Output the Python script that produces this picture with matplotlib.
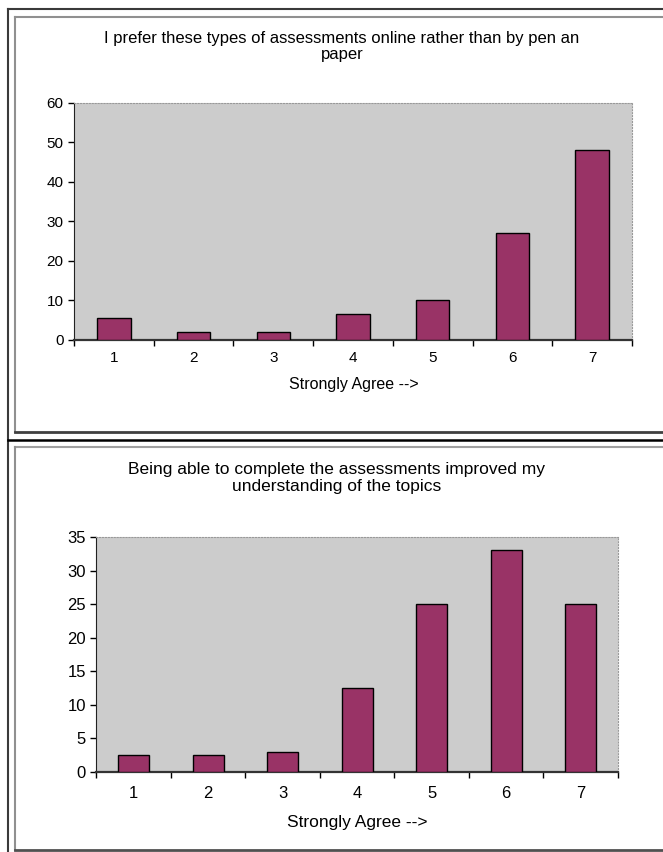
import numpy as np
import matplotlib
matplotlib.use("Agg")
import matplotlib.pyplot as plt
from matplotlib.lines import Line2D

plt.rcParams["font.family"] = ["Liberation Sans", "DejaVu Sans"]

# Datos.
categorias = [1, 2, 3, 4, 5, 6, 7]
valores_arriba = [5.5, 2, 2, 6.5, 10, 27, 48]
valores_abajo = [2.5, 2.5, 3, 12.5, 25, 33, 25]

titulo_arriba = "I prefer these types of assessments online rather than by pen an\npaper"
titulo_abajo = "Being able to complete the assessments improved my\nunderstanding of the topics"
etiqueta_x = "Strongly Agree -->"

W, H = 663, 852
fig = plt.figure(figsize=(W / 100, H / 100), dpi=100)


def px(x, y):
    # Paso de pixeles (desde arriba a la izquierda) a fraccion de figura.
    return x / W, 1 - y / H


def linea(x0, y0, x1, y1, color, lw):
    a = px(x0, y0)
    b = px(x1, y1)
    fig.add_artist(Line2D([a[0], b[0]], [a[1], b[1]], color=color, lw=lw,
                          transform=fig.transFigure))


# Marcos exteriores.
linea(8, 9, 8, 852, "#3a3a3a", 1.5)
linea(8, 9, 663, 9, "#3a3a3a", 1.5)
linea(8, 440, 663, 440, "#000000", 1.8)
# Panel de arriba.
linea(15, 17, 663, 17, "#909090", 1.5)
linea(15, 17, 15, 432, "#909090", 1.5)
linea(15, 432, 663, 432, "#404040", 2)
# Panel de abajo.
linea(15, 447, 663, 447, "#a0a0a0", 1.5)
linea(15, 447, 15, 850, "#909090", 1.5)
linea(15, 850, 663, 850, "#505050", 2)


def grafico(rect, valores, ymax, paso, titulo, tx, ty, lx, ly,
            fs_tit, fs_tick, fs_lab, pad_x, esp):
    ax = fig.add_axes(rect)
    ax.set_facecolor("#CCCCCC")
    ax.bar(categorias, valores, width=0.42, color="#993366",
           edgecolor="black", linewidth=1, zorder=3)
    ax.set_xlim(0.5, 7.5)
    ax.set_ylim(0, ymax)
    ax.set_yticks(np.arange(0, ymax + 1, paso))
    ax.set_xticks(categorias)
    ax.set_xticks(np.arange(0.5, 8, 1), minor=True)
    ax.tick_params(axis="x", which="major", length=0, pad=pad_x, labelsize=fs_tick)
    ax.tick_params(axis="x", which="minor", length=4, width=1, direction="out")
    ax.tick_params(axis="y", length=4, width=1, pad=3.5, labelsize=fs_tick)
    for s in ["top", "right"]:
        ax.spines[s].set_color("#999999")
        ax.spines[s].set_linestyle(":")
    ax.spines["left"].set_color("#222222")
    ax.spines["bottom"].set_color("#333333")
    ax.spines["bottom"].set_linewidth(1.6)
    fig.text(*px(tx, ty), titulo, ha="center", va="center", fontsize=fs_tit,
             linespacing=esp)
    fig.text(*px(lx, ly), etiqueta_x, ha="center", va="center", fontsize=fs_lab)
    return ax


grafico([74 / W, 1 - 339.5 / H, (632 - 74) / W, (339.5 - 103) / H],
        valores_arriba, 60, 10, titulo_arriba, 342, 46.5, 354, 385,
        12, 11, 11.5, 8, 1.1)
grafico([96.4 / W, 1 - 771.7 / H, (618 - 96.4) / W, (771.7 - 537) / H],
        valores_abajo, 35, 5, titulo_abajo, 337, 478, 357, 823,
        12.5, 12, 12.5, 10, 1.1)

plt.savefig("out.png", dpi=100)
